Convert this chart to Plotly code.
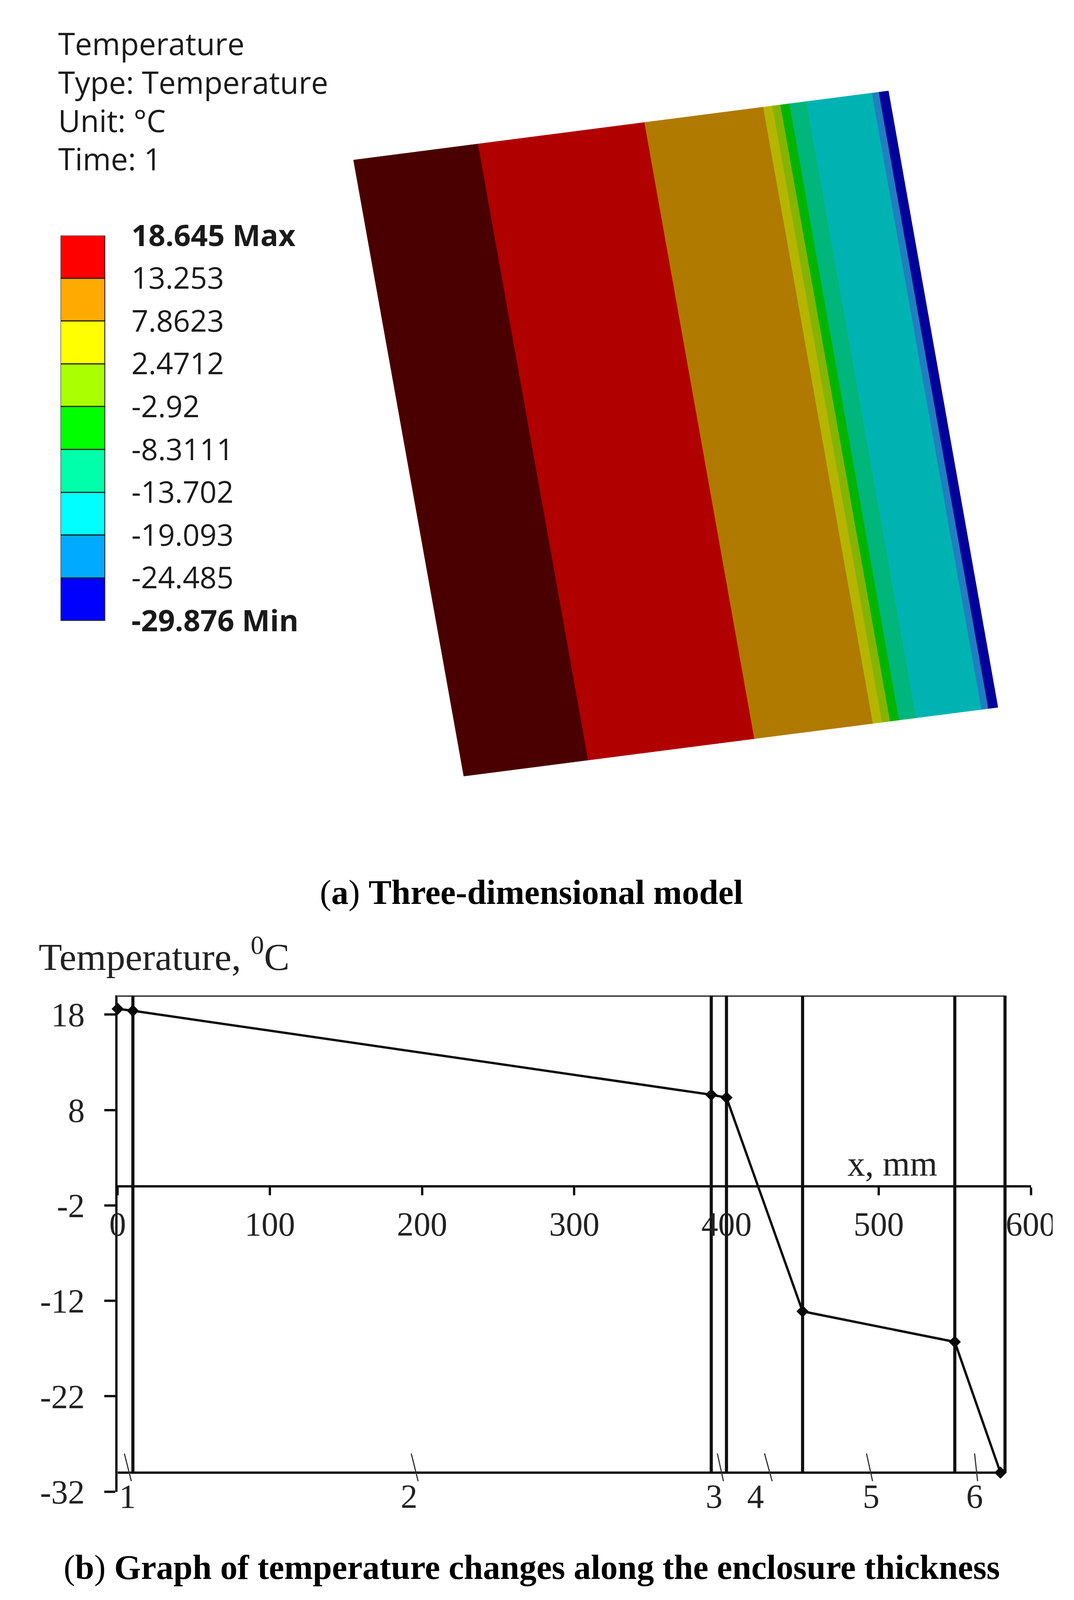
import plotly.graph_objects as go

# reference size, only used to turn reference pixels into page fractions
W, H = 2750, 4773

# --- (a) legend of the temperature field
legend_header = ["Temperature", "Type: Temperature", "Unit: °C", "Time: 1"]
legend_header_y = [120, 236, 351, 466]
legend_levels = [18.645, 13.253, 7.8623, 2.4712, -2.92, -8.3111, -13.702, -19.093, -24.485, -29.876]
legend_labels = ["<b>18.645 Max</b>", "13.253", "7.8623", "2.4712", "-2.92", "-8.3111",
                 "-13.702", "-19.093", "-24.485", "<b>-29.876 Min</b>"]
legend_colors = ["#ff0000", "#ffaa00", "#ffff00", "#aaff00", "#00ff00",
                 "#00ffaa", "#00ffff", "#00aaff", "#0000ff"]

# --- (a) the model: outline corners in reference pixels, bands as share of the thickness
model_top_left = (902, 470)
model_top_right = (2280, 263)
model_bottom_left = (1186, 2315)
model_bottom_right = (2562, 2109)
band_edges = [0, 0.233, 0.544, 0.766, 0.783, 0.798, 0.815, 0.847, 0.969, 0.982, 1]
band_colors = ["#4a0000", "#b00000", "#b07a00", "#b5b500", "#84b400",
               "#00b400", "#00b67a", "#00b3b3", "#1f7fc0", "#00009a"]

# --- (b) temperature through the enclosure
thickness_mm = [0, 10, 390, 400, 450, 550, 580]
temperature_c = [18.6, 18.4, 9.6, 9.3, -13.1, -16.3, -30]
layer_edges = [10, 390, 400, 450, 550, 583]
layer_names = ["1", "2", "3", "4", "5", "6"]
layer_name_x = [6.4, 191.5, 392, 419, 495, 563]
leader_top_x = [4.4, 192.9, 394, 425, 492, 563]
leader_bottom_x = [9, 197.4, 398, 430, 496, 565]
x_ticks = [0, 100, 200, 300, 400, 500, 600]
y_ticks = [18, 8, -2, -12, -22, -32]
y_tick_labels = ["18", "8", "-2", "-12", "-22", "-32"]

SERIF = "Liberation Serif"
SANS = "Open Sans"


def px_x(p):
    return p / W


def px_y(p):
    return 1 - p / H


fig = go.Figure()

# model bands
for i, color in enumerate(band_colors):
    xs, ys = [], []
    for f in (band_edges[i], band_edges[i + 1]):
        xs.append(model_top_left[0] + f * (model_top_right[0] - model_top_left[0]))
        ys.append(model_top_left[1] + f * (model_top_right[1] - model_top_left[1]))
    for f in (band_edges[i + 1], band_edges[i]):
        xs.append(model_bottom_left[0] + f * (model_bottom_right[0] - model_bottom_left[0]))
        ys.append(model_bottom_left[1] + f * (model_bottom_right[1] - model_bottom_left[1]))
    fig.add_trace(go.Scatter(x=xs, y=ys, xaxis="x2", yaxis="y2", mode="lines", fill="toself",
                             fillcolor=color, line=dict(color=color, width=1), hoverinfo="skip"))

# colour legend
steps = [legend_levels[i] - legend_levels[i + 1] for i in range(len(legend_colors))]
fig.add_trace(go.Bar(x=[0] * len(steps), y=steps, base=legend_levels[1:], width=1,
                     xaxis="x3", yaxis="y3", marker=dict(color=legend_colors, line=dict(color="#222222", width=3)),
                     hoverinfo="skip"))

# layer boundaries and outer box of the graph
for edge in layer_edges:
    fig.add_trace(go.Scatter(x=[edge, edge], y=[-30, 20], mode="lines",
                             line=dict(color="#111111", width=8), hoverinfo="skip"))
for level in (20, -30):
    fig.add_trace(go.Scatter(x=[0, layer_edges[-1]], y=[level, level], mode="lines",
                             line=dict(color="#111111", width=6), hoverinfo="skip"))

# leaders from the layer numbers
for top, bottom in zip(leader_top_x, leader_bottom_x):
    fig.add_trace(go.Scatter(x=[top, bottom], y=[-28, -30.9], mode="lines", cliponaxis=False,
                             line=dict(color="#333333", width=3), hoverinfo="skip"))

# the temperature curve
fig.add_trace(go.Scatter(x=thickness_mm, y=temperature_c, mode="lines+markers", cliponaxis=False,
                         line=dict(color="#0a0a0a", width=6),
                         marker=dict(symbol="diamond", size=24, color="#0a0a0a"), hoverinfo="skip"))

# y range stops at -32, so these sit by page height instead of by data
for name, x in zip(layer_names, layer_name_x):
    fig.add_annotation(x=x, y=px_y(4472), xref="x", yref="paper", text=name, showarrow=False,
                       yanchor="middle", font=dict(family=SERIF, size=86, color="#222222"))

for text, y in zip(legend_header, legend_header_y):
    fig.add_annotation(x=px_x(140), y=px_y(y), xref="paper", yref="paper", text=text, showarrow=False,
                       xanchor="left", yanchor="middle", font=dict(family=SANS, size=78, color="#1a1a1a"))

fig.add_annotation(x=px_x(90), y=px_y(2848), xref="paper", yref="paper", text="Temperature, <sup>0</sup>C",
                   showarrow=False, xanchor="left", yanchor="middle", font=dict(family=SERIF, size=98, color="#222222"))
fig.add_annotation(x=px_x(2173), y=px_y(3476), xref="paper", yref="paper", text="x, mm",
                   showarrow=False, xanchor="left", yanchor="middle", font=dict(family=SERIF, size=90, color="#222222"))
fig.add_annotation(x=px_x(814), y=px_y(2663), xref="paper", yref="paper",
                   text="(<b>a</b>) <b>Three-dimensional model</b>", showarrow=False, xanchor="left", yanchor="middle",
                   font=dict(family=SERIF, size=88, color="black"))
fig.add_annotation(x=px_x(154), y=px_y(4685), xref="paper", yref="paper",
                   text="(<b>b</b>) <b>Graph of temperature changes along the enclosure thickness</b>",
                   showarrow=False, xanchor="left", yanchor="middle", font=dict(family=SERIF, size=88, color="black"))

# y = 0 sits at this share of the page, the x axis runs along it
y_domain = [px_y(4458), px_y(2972)]
zero_pos = y_domain[0] + (0 + 32) / 52 * (y_domain[1] - y_domain[0])

# no fixed size: the figure fills the browser window, which is shorter than the reference
fig.update_layout(
    autosize=True,
    margin=dict(l=0, r=0, t=0, b=0),
    paper_bgcolor="white", plot_bgcolor="rgba(0,0,0,0)",
    showlegend=False, barmode="overlay", bargap=0,
    xaxis=dict(domain=[px_x(295), px_x(2647)], range=[0, 600], anchor="free", position=zero_pos,
               automargin=False,
               tickvals=x_ticks, ticks="outside", ticklen=20, tickwidth=6, tickcolor="#111111",
               showline=True, linecolor="#111111", linewidth=6, showgrid=False, zeroline=False,
               ticklabelstandoff=0,
               tickfont=dict(family=SERIF, size=86, color="#222222")),
    yaxis=dict(domain=y_domain, range=[-32, 20], anchor="x", automargin=False,
               tickvals=y_ticks, ticktext=y_tick_labels, ticks="outside", ticklen=28, tickwidth=6,
               tickcolor="#111111", showline=True, linecolor="#111111", linewidth=6, showgrid=False,
               zeroline=False, ticklabelstandoff=33,
               tickfont=dict(family=SERIF, size=86, color="#222222")),
    xaxis2=dict(domain=[0, 1], range=[0, W], visible=False, anchor="y2", automargin=False),
    yaxis2=dict(domain=[0, 1], range=[H, 0], visible=False, anchor="x2", automargin=False),
    xaxis3=dict(domain=[px_x(148), px_x(263)], range=[-0.5, 0.5], visible=False, anchor="y3", automargin=False),
    yaxis3=dict(domain=[px_y(1850), px_y(696)], range=[legend_levels[-1], legend_levels[0]], anchor="x3",
                side="right", tickvals=legend_levels, ticktext=legend_labels, ticks="", automargin=False,
                showgrid=False, zeroline=False, showline=False, ticklabelstandoff=66,
                tickfont=dict(family=SANS, size=76, color="#1a1a1a")),
)

# the scan cuts the last tick label off at the right
fig.add_shape(type="rect", xref="paper", yref="paper", x0=px_x(2703), x1=1, y0=px_y(3720), y1=px_y(3590),
              fillcolor="white", line=dict(width=0), layer="above")

fig.write_html("out.html")
